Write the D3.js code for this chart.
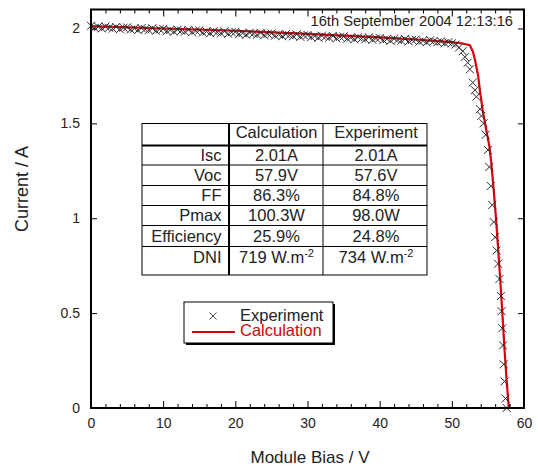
<!DOCTYPE html>
<html>
<head>
<meta charset="utf-8">
<script src="https://cdn.jsdelivr.net/npm/d3@7"></script>
<style>
  body { margin: 0; background: #fff; }
  svg { display: block; font-family: "Liberation Sans", Arial, Helvetica, sans-serif; }
</style>
</head>
<body>
<div id="chart"></div>
<script>
// experiment: measured I-V points
var expV = [0,0.5,1,1.5,2,2.5,3,3.5,4,4.5,5,5.5,6,6.5,7,7.5,8,8.5,9,9.5,
    10,10.5,11,11.5,12,12.5,13,13.5,14,14.5,15,15.5,16,16.5,17,17.5,18,18.5,19,19.5,
    20,20.5,21,21.5,22,22.5,23,23.5,24,24.5,25,25.5,26,26.5,27,27.5,28,28.5,29,29.5,
    30,30.5,31,31.5,32,32.5,33,33.5,34,34.5,35,35.5,36,36.5,37,37.5,38,38.5,39,39.5,
    40,40.5,41,41.5,42,42.5,43,43.5,44,44.5,45,45.5,46,46.5,47,47.5,48,48.5,49,49.5,
    50,50.5,51,51.5,51.8,52.2,52.5,52.9,53.2,53.4,53.9,54.1,54.4,54.7,55,55.2,55.4,55.6,55.8,
    56,56.2,56.4,56.6,56.8,56.9,57,57.1,57.2,57.3,57.45,57.6];
var expI = [2.014,2.003,2.009,2.000,2.010,2.004,1.999,2.008,1.996,2.004,
    2.006,1.994,2.000,1.991,2.002,1.996,1.991,2.001,1.988,1.996,
    1.998,1.986,1.992,1.983,1.994,1.988,1.983,1.993,1.980,1.988,
    1.990,1.978,1.984,1.975,1.986,1.980,1.975,1.985,1.972,1.980,
    1.982,1.970,1.976,1.967,1.978,1.972,1.967,1.977,1.964,1.972,
    1.974,1.962,1.968,1.959,1.970,1.964,1.959,1.969,1.956,1.964,
    1.966,1.954,1.960,1.951,1.962,1.956,1.951,1.961,1.948,1.956,
    1.958,1.946,1.952,1.943,1.954,1.948,1.943,1.953,1.940,1.948,
    1.950,1.938,1.944,1.935,1.946,1.940,1.935,1.945,1.932,1.940,
    1.942,1.930,1.936,1.927,1.938,1.932,1.927,1.932,1.922,1.927,
    1.922,1.915,1.900,1.880,1.850,1.820,1.785,1.715,1.675,1.640,1.575,1.540,1.500,1.440,1.360,
    1.270,1.170,1.070,0.980,0.900,0.830,0.760,0.680,0.590,0.510,0.420,0.330,0.230,0.140,
    0.050,0.000];

// calculation: model curve
var calcV = [0,10,20,30,40,45,50,51.5,52.5,52.9,53.2,53.65,53.9,54.25,54.6,55.2,55.5,55.8,
    56.1,56.4,56.7,57,57.3,57.6,57.9];
var calcI = [2.012,2.0,1.988,1.972,1.953,1.942,1.928,1.921,1.912,1.88,1.836,1.75,1.67,
    1.575,1.50,1.38,1.28,1.15,1.01,0.85,0.68,0.50,0.31,0.14,0.0];

var xTicks = [0, 10, 20, 30, 40, 50, 60];
var yTicks = [0, 0.5, 1, 1.5, 2];

var rowLabels = ["Isc", "Voc", "FF", "Pmax", "Efficiency", "DNI"];
var calcValues = ["2.01A", "57.9V", "86.3%", "100.3W", "25.9%", "719 W.m"];
var expValues = ["2.01A", "57.6V", "84.8%", "98.0W", "24.8%", "734 W.m"];
var colHeaders = ["", "Calculation", "Experiment"];

var stamp = "16th September 2004 12:13:16";

var W = 538, H = 467;
var pL = 91, pR = 524, pT = 9.5, pB = 408;

var svg = d3.select("#chart").append("svg")
    .attr("width", W).attr("height", H);

var x = d3.scaleLinear().domain([0, 60]).range([pL, pR]);
var y = d3.scaleLinear().domain([0, 2.1]).range([pB, pT]);

var minorX = d3.range(0, 61, 2).filter(function(d) { return d % 10 != 0; });

// date stamp sits under the top ticks
svg.append("text")
    .attr("x", 513).attr("y", 26)
    .attr("text-anchor", "end")
    .style("font-size", "14.7px").attr("fill", "#222")
    .text(stamp);

// red calculation line under the crosses
var line = d3.line().x(function(d, i) { return x(calcV[i]); })
    .y(function(d, i) { return y(calcI[i]); });
svg.append("path")
    .datum(calcV)
    .attr("d", line)
    .attr("fill", "none")
    .attr("stroke", "#d8000c")
    .attr("stroke-width", 2.2);

var cross = "M-4,-4L4,4M-4,4L4,-4";
svg.append("g").selectAll("path")
    .data(expV)
    .enter().append("path")
    .attr("transform", function(d, i) { return "translate(" + x(d) + "," + y(expI[i]) + ")"; })
    .attr("d", cross)
    .attr("fill", "none")
    .attr("stroke", "#2a2a2a")
    .attr("stroke-width", 1);

// axes (ticks point inward)
function styleAxis(g) {
    g.select(".domain").remove();
    g.selectAll("line").attr("stroke", "#000").attr("stroke-width", 1);
    g.selectAll("text").attr("fill", "#222").style("font-size", "14px")
        .style("font-family", "'Liberation Sans', Arial, sans-serif");
}

svg.append("g").attr("transform", "translate(0," + pB + ")")
    .call(d3.axisBottom(x).tickValues(xTicks).tickSizeInner(-7).tickSizeOuter(0).tickPadding(10))
    .call(styleAxis);
svg.append("g").attr("transform", "translate(0," + pB + ")")
    .call(d3.axisBottom(x).tickValues(minorX).tickSizeInner(-4).tickSizeOuter(0).tickFormat(""))
    .call(styleAxis);
svg.append("g").attr("transform", "translate(0," + pT + ")")
    .call(d3.axisTop(x).tickValues(xTicks).tickSizeInner(-7).tickSizeOuter(0).tickFormat(""))
    .call(styleAxis);
svg.append("g").attr("transform", "translate(0," + pT + ")")
    .call(d3.axisTop(x).tickValues(minorX).tickSizeInner(-4).tickSizeOuter(0).tickFormat(""))
    .call(styleAxis);
svg.append("g").attr("transform", "translate(" + pL + ",0)")
    .call(d3.axisLeft(y).tickValues(yTicks).tickSizeInner(-6).tickSizeOuter(0)
        .tickPadding(11).tickFormat(function(d) { return String(d); }))
    .call(styleAxis);
svg.append("g").attr("transform", "translate(" + pR + ",0)")
    .call(d3.axisRight(y).tickValues(yTicks).tickSizeInner(-6).tickSizeOuter(0).tickFormat(""))
    .call(styleAxis);

svg.append("rect")
    .attr("x", pL).attr("y", pT)
    .attr("width", pR - pL).attr("height", pB - pT)
    .attr("fill", "none").attr("stroke", "#000").attr("stroke-width", 2);

// titles
svg.append("text")
    .attr("x", 310).attr("y", 463)
    .attr("text-anchor", "middle")
    .style("font-size", "17px").attr("fill", "#222")
    .text("Module Bias / V");
svg.append("text")
    .attr("transform", "translate(28,189) rotate(-90)")
    .attr("text-anchor", "middle")
    .style("font-size", "18px").attr("fill", "#222")
    .text("Current / A");

// table
var tx = [142, 229, 323, 427];
var ty = [123.5, 145.5, 165, 185.5, 205.5, 225.5, 246.5, 275];
var table = svg.append("g");
table.append("rect")
    .attr("x", tx[0]).attr("y", ty[0])
    .attr("width", tx[3] - tx[0]).attr("height", ty[7] - ty[0])
    .attr("fill", "#fff").attr("stroke", "#000").attr("stroke-width", 1);
ty.slice(1, 7).forEach(function(v, i) {
    table.append("line")
        .attr("x1", tx[0]).attr("x2", tx[3]).attr("y1", v).attr("y2", v)
        .attr("stroke", "#000").attr("stroke-width", i == 0 ? 2 : 1);
});
tx.slice(1, 3).forEach(function(v, i) {
    table.append("line")
        .attr("x1", v).attr("x2", v).attr("y1", ty[0]).attr("y2", ty[7])
        .attr("stroke", "#000").attr("stroke-width", i == 0 ? 2 : 1);
});
var colMid = [221.5, 276.5, 376];
colHeaders.forEach(function(h, j) {
    if (!h) return;
    table.append("text")
        .attr("x", colMid[j]).attr("y", 137.5)
        .attr("text-anchor", "middle")
        .style("font-size", "16.5px").attr("fill", "#222")
        .text(h);
});
var base = [160.5, 181, 201, 221, 241.5, 262.5];
rowLabels.forEach(function(r, i) {
    table.append("text")
        .attr("x", colMid[0]).attr("y", base[i])
        .attr("text-anchor", "end")
        .style("font-size", "16.5px").attr("fill", "#222")
        .text(r);
    [calcValues[i], expValues[i]].forEach(function(v, j) {
        var t = table.append("text")
            .attr("x", colMid[j + 1]).attr("y", base[i])
            .attr("text-anchor", "middle")
            .style("font-size", "16.5px").attr("fill", "#222");
        t.append("tspan").text(v);
        if (r == "DNI") {
            t.append("tspan").attr("dy", -6).style("font-size", "11px").text("-2");
        }
    });
});

// legend
var lg = svg.append("g");
lg.append("rect").attr("x", 186).attr("y", 304).attr("width", 149).attr("height", 41).attr("fill", "#000");
lg.append("rect").attr("x", 184).attr("y", 302).attr("width", 149).attr("height", 41)
    .attr("fill", "#fff").attr("stroke", "#000").attr("stroke-width", 1);
lg.append("path").attr("transform", "translate(213,316)").attr("d", "M-3.5,-3.5L3.5,3.5M-3.5,3.5L3.5,-3.5")
    .attr("fill", "none").attr("stroke", "#3a3a3a").attr("stroke-width", 0.9);
lg.append("text").attr("x", 240).attr("y", 321)
    .style("font-size", "16.5px").attr("fill", "#222").text("Experiment");
lg.append("line").attr("x1", 192).attr("x2", 235).attr("y1", 332).attr("y2", 332)
    .attr("stroke", "#d8000c").attr("stroke-width", 2);
lg.append("text").attr("x", 240).attr("y", 336)
    .style("font-size", "16.5px").attr("fill", "#d8000c").text("Calculation");
</script>
</body>
</html>
